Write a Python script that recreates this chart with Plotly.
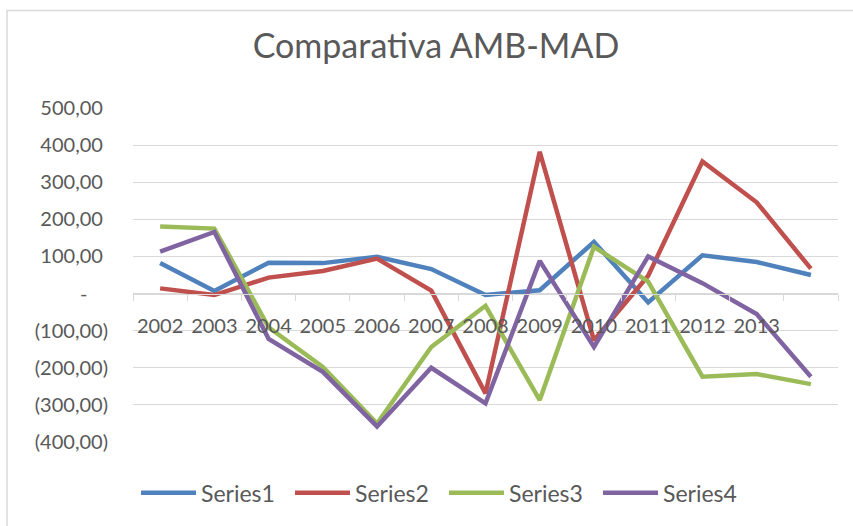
import plotly.graph_objects as go

years = ["2002", "2003", "2004", "2005", "2006", "2007", "2008",
         "2009", "2010", "2011", "2012", "2013"]
n_points = 13  # 13 data points; the last one has no category label

series1 = [82, 7, 83, 82, 99, 66, -4, 9, 139, -24, 103, 85, 50]
series2 = [14, -4, 43, 61, 94, 8, -269, 382, -126, 48, 356, 246, 67]
series3 = [181, 175, -91, -198, -350, -144, -33, -287, 126, 32, -224, -217, -244]
series4 = [113, 166, -122, -211, -358, -200, -296, 88, -144, 100, 28, -55, -224]

series_names = ["Series1", "Series2", "Series3", "Series4"]
series_colors = ["#4F81BD", "#C0504D", "#9BBB59", "#8064A2"]

y_ticks = [-400, -300, -200, -100, 0, 100, 200, 300, 400, 500]
y_labels = ["(400,00)", "(300,00)", "(200,00)", "(100,00)", "-\u00a0\u00a0\u00a0\u00a0",
            "100,00\u00a0", "200,00\u00a0", "300,00\u00a0", "400,00\u00a0", "500,00\u00a0"]

W, H = 853, 526
ML, MR, MT, MB = 133, 15, 108, 82
pw = W - ML - MR
ph = H - MT - MB

x_idx = list(range(n_points))
fig = go.Figure()
for name, vals, col in zip(series_names, [series1, series2, series3, series4], series_colors):
    fig.add_trace(go.Scatter(x=x_idx, y=vals, mode="lines", name=name,
                             line=dict(color=col, width=4.5)))

FONT = "Lato"
GREY = "#595959"
GRID = "#D9D9D9"

fig.update_layout(
    width=W, height=H,
    margin=dict(l=ML, r=MR, t=MT, b=MB),
    paper_bgcolor="white", plot_bgcolor="white",
    font=dict(family=FONT, color=GREY),
    title=dict(text="Comparativa AMB-MAD", x=436 / W, xref="container", xanchor="center",
               y=1 - 46 / H, yref="container", yanchor="middle",
               font=dict(family=FONT, size=34, color=GREY)),
    xaxis=dict(range=[-0.5, n_points - 0.5], tickmode="array",
               tickvals=list(range(len(years))), ticktext=years,
               showgrid=False, zeroline=False, showline=True, linecolor=GRID, linewidth=1,
               anchor="free", position=400 / 900, ticks="", ticklen=0,
               ticklabelstandoff=14,
               tickfont=dict(family=FONT, size=20, color=GREY),
               minor=dict(tickmode="linear", tick0=-0.5, dtick=1, ticks="outside",
                          ticklen=6, tickcolor=GRID, tickwidth=1, showgrid=False)),
    yaxis=dict(range=[-400, 500], tickmode="array", tickvals=y_ticks, ticktext=y_labels,
               showgrid=True, gridcolor=GRID, gridwidth=1, zeroline=False,
               showline=False, ticks="", ticklabelstandoff=24,
               tickfont=dict(family=FONT, size=20, color=GREY)),
    legend=dict(orientation="h", x=(136 - ML) / pw, xanchor="left",
                y=(444 - 495) / ph, yanchor="middle",
                font=dict(family=FONT, size=23, color=GREY),
                itemwidth=55, entrywidth=84, entrywidthmode="pixels",
                bgcolor="rgba(0,0,0,0)"),
    showlegend=True,
)

# chart-area border (left and top visible in the crop)
fig.add_shape(type="rect", xref="paper", yref="paper",
              x0=(7 - ML) / pw, x1=1.2, y0=-0.5, y1=(444 - 10) / ph,
              line=dict(color=GRID, width=1.5), fillcolor="rgba(0,0,0,0)", layer="below")

fig.write_html("out.html", config={"displayModeBar": False},
               post_script="document.body.style.margin='0';")
